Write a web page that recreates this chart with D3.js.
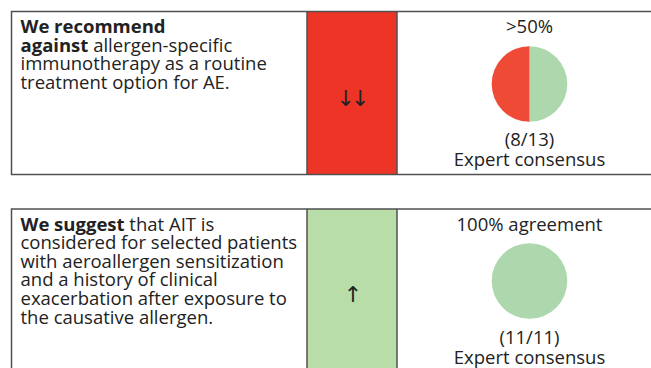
<!DOCTYPE html>
<html><head><meta charset="utf-8">
<script src="https://cdn.jsdelivr.net/npm/d3@7"></script>
<style>html,body{margin:0;padding:0;background:#fff;}svg{display:block;}</style>
</head><body><div id="chart"></div>
<script>
// ---- data ----
const textLines = [
  [["We recommend", ""], ["against", " allergen-specific"], ["", "immunotherapy as a routine"], ["", "treatment option for AE."]],
  [["We suggest", " that AIT is"], ["", "considered for selected patients"], ["", "with aeroallergen sensitization"], ["", "and a history of clinical"], ["", "exacerbation after exposure to"], ["", "the causative allergen."]]
];
const strengthSymbols = ["\u2193\u2193", "\u2191"];
const strengthColors = ["#EE3427", "#B9DDA9"];
const agreementLabels = [">50%", "100% agreement"];
const voteLabels = ["(8/13)", "(11/11)"];
const sourceLabels = ["Expert consensus", "Expert consensus"];
const pieValues = [[50, 50], [100, 0]]; // [agree(green), disagree(red)] as drawn
const pieColors = ["#ADD8AD", "#EF4A36"];

// ---- layout ----
const W = 651, H = 368;
const svg = d3.select("#chart").append("svg").attr("width", W).attr("height", H);
const font = "'Open Sans', sans-serif";
const fs = 18.5;
const rowTop = [11.5, 209], rowH = [163, 170];
const colX = [11.5, 307, 397, 660];
const stroke = "#505050";

const pie = d3.pie().sort(null).value(d => d);
const arc = d3.arc().innerRadius(0).outerRadius(37.8);

textLines.forEach((lines, i) => {
  const g = svg.append("g");
  const y0 = rowTop[i], h = rowH[i];
  g.append("rect").attr("x", colX[1]).attr("y", y0).attr("width", colX[2] - colX[1]).attr("height", h)
    .attr("fill", strengthColors[i]);
  g.append("rect").attr("x", colX[0]).attr("y", y0).attr("width", colX[3] - colX[0]).attr("height", h)
    .attr("fill", "none").attr("stroke", stroke).attr("stroke-width", 1.5);
  [colX[1], colX[2]].forEach(x => g.append("line").attr("x1", x).attr("x2", x).attr("y1", y0).attr("y2", y0 + h)
    .attr("stroke", stroke).attr("stroke-width", 1.5));
  lines.forEach((ln, k) => {
    const t = g.append("text").attr("x", 20.5).attr("y", y0 + 21.5 + k * 18.6)
      .attr("font-family", font).attr("font-size", fs).attr("fill", "#222");
    if (ln[0]) t.append("tspan").attr("font-weight", 700).text(ln[0]);
    if (ln[1]) t.append("tspan").attr("font-weight", 400).text(ln[1]);
  });
  g.append("text").attr("x", (colX[1] + colX[2]) / 2 - 1).attr("y", y0 + (i === 0 ? 94 : 93))
    .attr("text-anchor", "middle").attr("font-family", "'DejaVu Sans', sans-serif").attr("font-size", 22)
    .attr("letter-spacing", -4)
    .attr("fill", "#222").text(strengthSymbols[i]);
  const cx = 529.5, cy = y0 + (i === 0 ? 72.5 : 72);
  g.append("g").attr("transform", `translate(${cx},${cy})`).selectAll("path")
    .data(pie(pieValues[i])).join("path").attr("d", arc).attr("fill", (d, j) => pieColors[j]);
  [[agreementLabels[i], 21.5], [voteLabels[i], 134.5], [sourceLabels[i], 154.5]].forEach(([s, dy]) =>
    g.append("text").attr("x", cx).attr("y", y0 + dy).attr("text-anchor", "middle")
      .attr("font-family", font).attr("font-size", fs).attr("fill", "#222").text(s));
});
</script></body></html>
